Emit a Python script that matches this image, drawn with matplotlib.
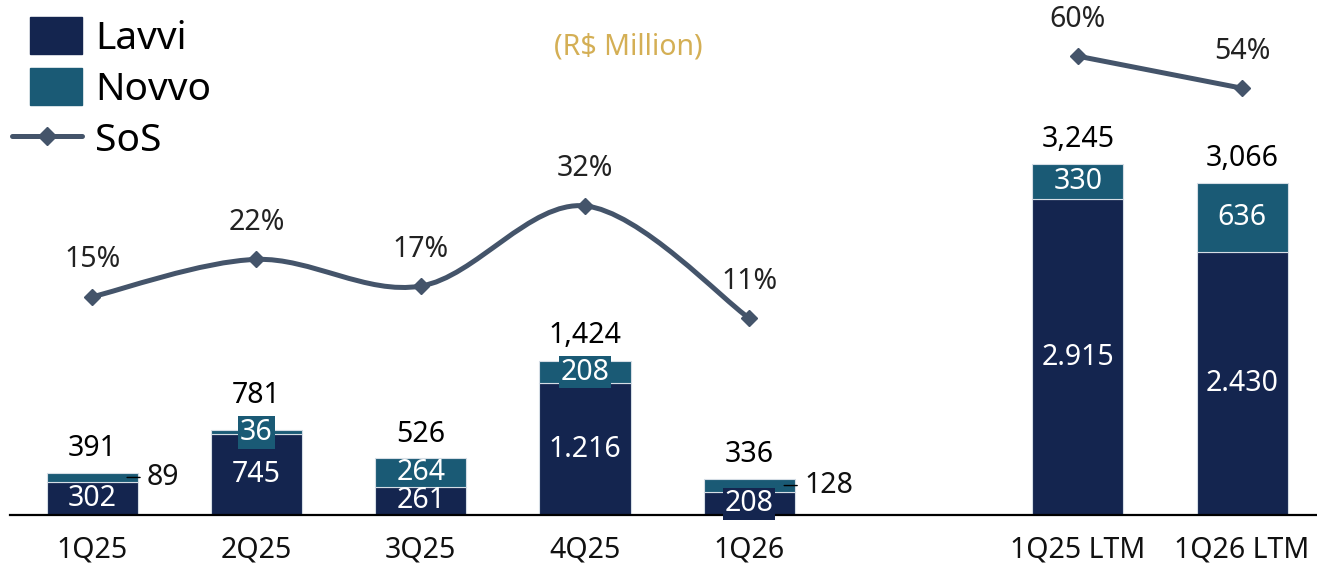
import matplotlib.pyplot as plt
import numpy as np
from matplotlib.path import Path
from matplotlib.patches import PathPatch, Rectangle
from matplotlib.lines import Line2D
from matplotlib.legend_handler import HandlerPatch

categories = ["1Q25", "2Q25", "3Q25", "4Q25", "1Q26", "1Q25 LTM", "1Q26 LTM"]
lavvi = [302, 745, 261, 1216, 208, 2915, 2430]
novvo = [89, 36, 264, 208, 128, 330, 636]
totals = [391, 781, 526, 1424, 336, 3245, 3066]
sos = [15, 22, 17, 32, 11, 60, 54]
novvo_outside = ["1Q25", "1Q26"]   # tiny segments labelled to the right

LAVVI = "#14254f"
NOVVO = "#1a5a75"
LINE = "#44546a"
GOLD = "#d4af55"
EDGE = "#d5dde5"

plt.rcParams['font.family'] = ['Noto Sans', 'DejaVu Sans']

# slot 5 stays empty to separate quarters from LTM
x = np.array([0, 1, 2, 3, 4, 6, 7])
W = 0.555
PX = 0.72  # points per pixel at dpi 100
FS = 20.5

fig = plt.figure(figsize=(13.17, 5.65), dpi=100)
ax = fig.add_axes([10 / 1317, 50 / 565, 1307 / 1317, 515 / 565])
ax.set_xlim(-0.5, 7.456)
ax.set_ylim(0, 4755)

ax.bar(x, lavvi, W, color=LAVVI, edgecolor=EDGE, linewidth=0.8, zorder=2)
ax.bar(x, novvo, W, bottom=lavvi, color=NOVVO, edgecolor=EDGE, linewidth=0.8, zorder=2)

for s in ["left", "right", "top"]:
    ax.spines[s].set_visible(False)
ax.spines["bottom"].set_linewidth(1.6)
ax.spines["bottom"].set_zorder(3)
ax.set_yticks([])
ax.set_xticks(x)
ax.set_xticklabels(categories, fontsize=FS, color="#111111")
ax.tick_params(axis="x", length=0, pad=15)

units_per_px = 4755 / 515
fit = 25 * units_per_px   # segments shorter than this get a backing box


def seg_label(xi, y, txt, color, seg):
    box = None
    if seg < fit:
        box = dict(boxstyle="square,pad=0.06", fc=color, ec="none")
    ax.text(xi, y, txt, ha="center", va="center", fontsize=FS, color="white",
            zorder=4, bbox=box)


for xi, cat, lv, nv, tot in zip(x, categories, lavvi, novvo, totals):
    seg_label(xi, lv / 2, f"{lv:,}".replace(",", "."), LAVVI, lv)
    nc = lv + nv / 2
    if cat in novvo_outside:
        ax.annotate(str(nv), xy=(xi + W / 2 - 0.065, nc), xytext=(20 * PX, 0),
                    textcoords="offset points", ha="left", va="center",
                    fontsize=FS, color="#111111", zorder=4,
                    arrowprops=dict(arrowstyle="-", color="black", lw=1,
                                    shrinkA=3, shrinkB=0))
        top = lv + nv
    else:
        seg_label(xi, nc, str(nv), NOVVO, nv)
        top = max(lv + nv, nc + 13 * units_per_px)
    ax.annotate(f"{tot:,}", xy=(xi, top), xytext=(0, 24 * PX),
                textcoords="offset points", ha="center", va="center",
                fontsize=FS, color="black")

# share of sales on secondary axis
ax2 = ax.twinx()
ax2.set_ylim(-25.8, 70.5)
ax2.axis("off")

# smooth curve through the quarterly points (Catmull-Rom as cubic Bezier)
qx = x[:5].astype(float)
qy = np.array(sos[:5], dtype=float)
px = np.concatenate([[qx[0]], qx, [qx[-1]]])
py = np.concatenate([[qy[0]], qy, [qy[-1]]])
verts = [(qx[0], qy[0])]
codes = [Path.MOVETO]
for i in range(1, len(px) - 2):
    c1 = (px[i] + (px[i + 1] - px[i - 1]) / 6, py[i] + (py[i + 1] - py[i - 1]) / 6)
    c2 = (px[i + 1] - (px[i + 2] - px[i]) / 6, py[i + 1] - (py[i + 2] - py[i]) / 6)
    verts += [c1, c2, (px[i + 1], py[i + 1])]
    codes += [Path.CURVE4] * 3
ax2.add_patch(PathPatch(Path(verts, codes), fc="none", ec=LINE, lw=3.6,
                        capstyle="round", zorder=3))
ax2.plot(qx, qy, ls="none", marker="D", ms=8, color=LINE, zorder=4)
ax2.plot(x[5:], sos[5:], marker="D", ms=8, color=LINE, lw=3.6,
         solid_capstyle="round", zorder=4)
for xi, v in zip(x, sos):
    ax2.annotate(f"{v}%", xy=(xi, v), xytext=(0, 37 * PX), textcoords="offset points",
                 ha="center", va="center", fontsize=FS, color="#222222")

fig.text(628 / 1317, 1 - 47 / 565, "(R$ Million)", ha="center", va="center",
         fontsize=FS, color=GOLD)


def square_patch(legend, orig_handle, xdescent, ydescent, width, height, fontsize):
    return Rectangle((-xdescent + width * 0.26, -ydescent - height * 0.05),
                     width * 0.74, height * 1.1)


handles = [Rectangle((0, 0), 1, 1, color=LAVVI),
           Rectangle((0, 0), 1, 1, color=NOVVO),
           Line2D([], [], color=LINE, lw=3.6, marker="D", ms=9, solid_capstyle="round")]
fig.legend(handles, ["Lavvi", "Novvo", "SoS"], loc="upper left",
           bbox_to_anchor=(12 / 1317, 1 - 19 / 565), bbox_transform=fig.transFigure,
           frameon=False, fontsize=28, borderpad=0, borderaxespad=0,
           handlelength=1.8, handleheight=0.95, handletextpad=0.33, labelspacing=0.3,
           handler_map={Rectangle: HandlerPatch(patch_func=square_patch)})

fig.savefig("out.png", dpi=100)
